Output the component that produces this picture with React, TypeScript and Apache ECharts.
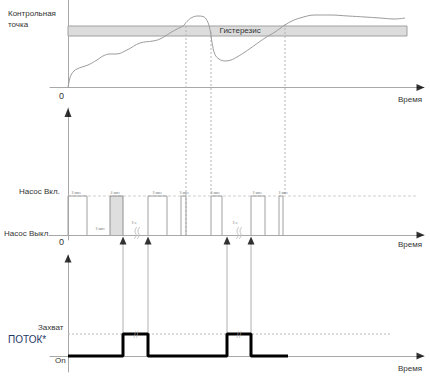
import React, { useEffect, useRef } from "react";
import * as echarts from "echarts";

// ---- Data (schematic units; x = time, 0 at the vertical axis) ----
const curveX = [0, 1, 3, 6, 9, 14, 20, 29, 35, 42, 48, 59, 72, 85, 92, 102, 109, 115, 119, 124, 130, 135, 139, 142, 144, 147, 151, 157, 163, 169, 177, 187, 197, 207, 217, 224, 232, 247, 262, 280, 297, 312, 327, 337];
const curveY = [0, 5.5, 12.5, 16.5, 18.5, 20.5, 22.5, 27.5, 31.5, 33.5, 33.5, 37.5, 44.5, 46.5, 48.5, 54.5, 58.5, 61.5, 66, 70, 71.5, 71, 67, 58, 45, 33, 28.5, 26.5, 27.5, 30.5, 35.5, 42.5, 49.5, 55.5, 62.5, 66.5, 69.5, 72.5, 72.5, 71.5, 70.5, 69.5, 68.5, 69.5];
const hysteresisRange = [51.5, 61.5];
const hysteresisEnd = 339;
const crossingX = [118, 143, 217];
const crossingTop = [61.5, 55.5, 63.5];
const crossingBottom = [-147.5, -108.5, -108.5];

const pumpOnLevel = 39;
const pulseStarts = [0, 80, 113, 143, 183, 211];
const pulseEnds = [19, 99, 118, 154, 197, 215];
const longPulse = [42, 55];
const pulseLabelX = [3, 42, 84, 111, 142, 184, 210];
const pulseLabelText = ["3 мин", "4 мин", "3 мин", "3 мин", "3 мин", "3 мин", "3 мин"];
const offLabel = [27, 6, "3 мин"];
const gapLabelX = [63, 164];
const gapText = "3 ч";
const squiggleX = [67, 169];

const captureLevel = 22;
const flowTimes = [0, 55, 80, 159, 183, 220];
const flowStates = [0, 1, 0, 1, 0, 0];
const triggerX = [55, 80, 159, 183];
const breakX = [68, 171];

const AX = "#a8a8a8";
const FONT = "Liberation Sans, Arial, sans-serif";

export default function App() {
  const ref = useRef<HTMLDivElement>(null);
  useEffect(() => {
    document.body.style.margin = "0";
    const chart = echarts.init(ref.current!, null, { renderer: "svg" });

    const axisCommon = {
      type: "value" as const,
      axisLine: { show: true, onZero: true, lineStyle: { color: AX, width: 1 } },
      axisTick: { show: false },
      axisLabel: { show: false },
      splitLine: { show: false },
    };
    const xAxes = [0, 1, 2].map((g) => ({ ...axisCommon, gridIndex: g, min: -18, max: 356 }));
    const yAxes = [
      { ...axisCommon, gridIndex: 0, min: 0, max: 87.5 },
      { ...axisCommon, gridIndex: 1, min: -5, max: 127 },
      { ...axisCommon, gridIndex: 2, min: -16, max: 101 },
    ];

    const series: any[] = [];
    const line = (g: number, data: any[], style: any, extra: any = {}) => ({
      type: "line",
      xAxisIndex: g,
      yAxisIndex: g,
      data,
      symbol: "none",
      lineStyle: style,
      silent: true,
      ...extra,
    });

    // top: curve with hysteresis band
    series.push(
      line(0, curveX.map((x, i) => [x, curveY[i]]), { color: "#9c9c9c", width: 1 }, {
        smooth: 0.4,
        z: 3,
        markArea: {
          silent: true,
          itemStyle: { color: "#dcdcdc", borderColor: "#a0a0a0", borderWidth: 1 },
          label: {
            show: true,
            position: [152, 1],
            formatter: "Гистерезис",
            fontSize: 8,
            fontFamily: FONT,
            color: "#333",
          },
          data: [[{ xAxis: 0, yAxis: hysteresisRange[0] }, { xAxis: hysteresisEnd, yAxis: hysteresisRange[1] }]],
        },
      })
    );
    crossingX.forEach((x, i) => {
      series.push(
        line(0, [[x, crossingTop[i]], [x, crossingBottom[i]]], { color: "#b4b4b4", width: 1, type: [2, 2] }, { clip: false, z: 2 })
      );
    });

    // middle: pump state
    series.push(line(1, [[0, pumpOnLevel], [349, pumpOnLevel]], { color: "#d0d0d0", width: 1, type: [3, 2] }));
    pulseStarts.forEach((s, i) => {
      const e = pulseEnds[i];
      series.push(line(1, [[s, 0], [s, pumpOnLevel], [e, pumpOnLevel], [e, 0]], { color: "#a0a0a0", width: 1 }, { z: 3 }));
    });
    series.push(
      line(1, [[longPulse[0], 0], [longPulse[0], pumpOnLevel], [longPulse[1], pumpOnLevel], [longPulse[1], 0]], { color: "#909090", width: 1 }, {
        areaStyle: { color: "#dedede", opacity: 1 },
        z: 3,
      })
    );
    const tinyLabels: any[] = pulseLabelX.map((x, i) => [x, pumpOnLevel + 3, pulseLabelText[i]]);
    tinyLabels.push(offLabel);
    gapLabelX.forEach((x) => tinyLabels.push([x, 12, gapText]));
    series.push({
      type: "scatter",
      xAxisIndex: 1,
      yAxisIndex: 1,
      data: tinyLabels,
      symbolSize: 1,
      itemStyle: { color: "rgba(0,0,0,0)" },
      silent: true,
      label: { show: true, position: "right", distance: 0, formatter: (p: any) => p.data[2], fontSize: 3.5, fontFamily: FONT, color: "#555" },
    });
    // break squiggles (two wavy strokes each)
    squiggleX.forEach((x) => {
      [0, 3].forEach((dx) => {
        series.push(
          line(1, [[x + dx + 2, 8], [x + dx, 4], [x + dx + 1, 0], [x + dx - 1, -4]], { color: "#c2c2c2", width: 1 }, { smooth: 0.6, z: 4 })
        );
      });
    });

    // bottom: flow
    series.push(line(2, [[0, captureLevel], [324, captureLevel]], { color: "#b8b8b8", width: 1, type: [2, 2] }));
    triggerX.forEach((x) => {
      series.push(line(2, [[x, captureLevel], [x, 113]], { color: "#b0b0b0", width: 1 }, { clip: false, z: 1 }));
    });
    series.push(
      line(2, flowTimes.map((t, i) => [t, flowStates[i] * captureLevel]), { color: "#000", width: 3 }, { step: "end", z: 4 })
    );
    series.push({
      type: "scatter",
      xAxisIndex: 2,
      yAxisIndex: 2,
      data: breakX.map((x) => [x, 21]),
      symbolSize: 1,
      itemStyle: { color: "rgba(0,0,0,0)" },
      silent: true,
      z: 5,
      label: { show: true, position: "inside", formatter: "//", fontSize: 9, fontFamily: FONT, color: "#b0b0b0" },
    });
    // arrowheads
    series.push({
      type: "scatter",
      xAxisIndex: 2,
      yAxisIndex: 2,
      data: triggerX.map((x) => [x, 115.5]),
      symbol: "triangle",
      symbolSize: [7, 8],
      itemStyle: { color: "#000" },
      clip: false,
      silent: true,
      z: 6,
    });
    [0, 1, 2].forEach((g) => {
      series.push({
        type: "scatter",
        xAxisIndex: g,
        yAxisIndex: g,
        data: [[352.5, 0]],
        symbol: "triangle",
        symbolRotate: -90,
        symbolSize: [7, 8],
        itemStyle: { color: "#000" },
        clip: false,
        silent: true,
        z: 6,
      });
    });
    series.push({
      type: "scatter", xAxisIndex: 1, yAxisIndex: 1, data: [[0, 122.5]], symbol: "triangle", symbolSize: [7, 9],
      itemStyle: { color: "#000" }, clip: false, silent: true, z: 6,
    });
    series.push({
      type: "scatter", xAxisIndex: 2, yAxisIndex: 2, data: [[0, 97.5]], symbol: "triangle", symbolSize: [7, 8],
      itemStyle: { color: "#000" }, clip: false, silent: true, z: 6,
    });

    const txt = (text: string, x: number, y: number, size = 8, fill = "#333") => ({
      type: "text",
      x,
      y,
      silent: true,
      style: { text, fontSize: size, fontFamily: FONT, fill, verticalAlign: "middle", align: "left" },
    });

    chart.setOption({
      animation: false,
      grid: [
        { left: 50, top: 0, width: 374, height: 87.5 },
        { left: 50, top: 108, width: 374, height: 132 },
        { left: 50, top: 255, width: 374, height: 117 },
      ],
      xAxis: xAxes,
      yAxis: yAxes,
      series,
      graphic: [
        txt("Контрольная", 8, 13.5),
        txt("точка", 8, 24.5),
        txt("0", 59, 96, 9),
        txt("Время", 398, 99),
        txt("Насос Вкл.", 19, 191),
        txt("Насос Выкл.", 4, 233),
        txt("0", 59, 242, 9),
        txt("Время", 398, 244),
        txt("Захват", 38, 327),
        txt("ПОТОК*", 8, 339, 10, "#1f3864"),
        txt("On", 55, 360),
        txt("Время", 398, 368),
      ],
    });
    return () => chart.dispose();
  }, []);
  return <div ref={ref} style={{ position: "absolute", left: 0, top: 0, width: 430, height: 376 }} />;
}
